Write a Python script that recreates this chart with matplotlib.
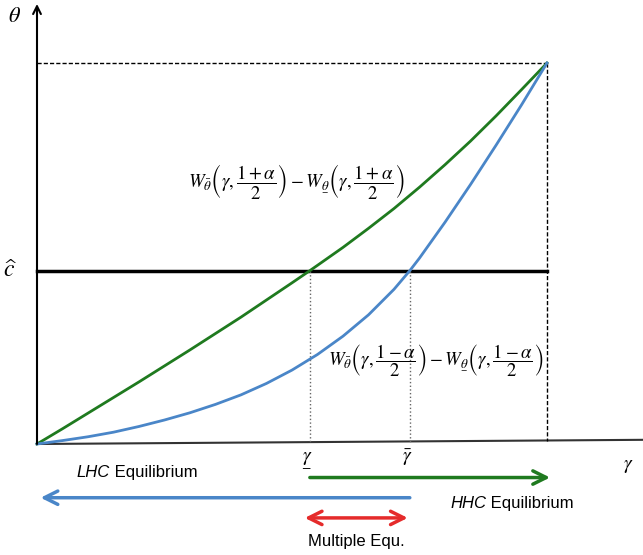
import matplotlib
matplotlib.use('Agg')
import matplotlib.pyplot as plt

plt.rcParams['mathtext.fontset'] = 'stix'
plt.rcParams['font.family'] = ['Liberation Sans', 'DejaVu Sans']

# 曲线数据（从图中读取，横轴 gamma 归一化到 0..1，纵轴 theta 归一化到 0..1）
green_x = [0, 0.05, 0.1, 0.15, 0.2, 0.25, 0.3, 0.35, 0.4, 0.45, 0.5, 0.535,
           0.55, 0.6, 0.65, 0.7, 0.75, 0.8, 0.85, 0.9, 0.95, 1.0]
green_y = [0, 0.040, 0.081, 0.122, 0.163, 0.205, 0.247, 0.290, 0.333, 0.378, 0.423, 0.455,
           0.469, 0.516, 0.566, 0.618, 0.674, 0.733, 0.795, 0.861, 0.930, 1.0]

blue_x = [0, 0.05, 0.1, 0.15, 0.2, 0.25, 0.3, 0.35, 0.4, 0.45, 0.5, 0.55, 0.6, 0.65,
          0.7, 0.731, 0.75, 0.8, 0.85, 0.9, 0.95, 1.0]
blue_y = [0, 0.009, 0.019, 0.031, 0.046, 0.063, 0.082, 0.104, 0.129, 0.159, 0.194, 0.235, 0.283, 0.339,
          0.406, 0.455, 0.488, 0.582, 0.681, 0.784, 0.890, 1.0]

c_hat = 0.455
gamma_lo = 0.535
gamma_hi = 0.731
gamma_max = 1.0
theta_max = 1.0

# mathtext 没有 \underline，用 \underset{-} 代替
upper_label = r'$W_{\bar{\theta}}\left(\gamma,\dfrac{1+\alpha}{2}\right)-W_{\underset{-}{\theta}}\left(\gamma,\dfrac{1+\alpha}{2}\right)$'
lower_label = r'$W_{\bar{\theta}}\left(\gamma,\dfrac{1-\alpha}{2}\right)-W_{\underset{-}{\theta}}\left(\gamma,\dfrac{1-\alpha}{2}\right)$'

GREEN = '#1f7a1f'
BLUE = '#4a86c8'
RED = '#e52b2b'

fig = plt.figure(figsize=(6.43, 5.55), dpi=100)
ax = fig.add_axes([37 / 643, 111 / 555, 510 / 643, 381 / 555])
ax.set_xlim(0, 1)
ax.set_ylim(0, 1)
ax.axis('off')

# 坐标轴
ax.annotate('', xy=(0, 1.155), xytext=(0, 0), xycoords='data',
            arrowprops=dict(arrowstyle='->', lw=1.5, color='black', mutation_scale=14,
                            shrinkA=0, shrinkB=0), annotation_clip=False)
ax.plot([0, 1.19], [0, 0.011], color='#333333', lw=1.5, clip_on=False)

# 虚线框
ax.plot([0, gamma_max], [theta_max, theta_max], color='black', lw=1, ls=(0, (3, 1.5)), clip_on=False)
ax.plot([gamma_max, gamma_max], [theta_max, 0.008], color='black', lw=1, ls=(0, (3, 1.5)), clip_on=False)

# c-hat 水平线
ax.plot([0, gamma_max], [c_hat, c_hat], color='black', lw=2.5, clip_on=False)

# 点线
ax.plot([gamma_lo, gamma_lo], [c_hat, 0.005], color='#666666', lw=1, ls=':', clip_on=False)
ax.plot([gamma_hi, gamma_hi], [c_hat, 0.006], color='#666666', lw=1, ls=':', clip_on=False)

# 曲线
ax.plot(green_x, green_y, color=GREEN, lw=2, clip_on=False)
ax.plot(blue_x, blue_y, color=BLUE, lw=2, clip_on=False)

# 公式
ax.text(0.508, 0.688, upper_label, fontsize=13.5, ha='center', va='center')
ax.text(0.781, 0.218, lower_label, fontsize=13.5, ha='center', va='center')

# 轴标签
ax.text(-0.045, 1.121, r'$\theta$', fontsize=16, ha='center', va='center')
ax.text(-0.053, c_hat, r'$\widehat{c}$', fontsize=17, ha='center', va='center')
ax.text(1.159, -0.06, r'$\gamma$', fontsize=14, ha='center', va='center')
ax.text(gamma_lo - 0.006, -0.042, r'$\underset{-}{\gamma}$', fontsize=14, ha='center', va='center')
ax.text(gamma_hi - 0.004, -0.037, r'$\bar{\gamma}$', fontsize=14, ha='center', va='center')

# 箭头
arrow_kw = dict(lw=2.5, mutation_scale=24, shrinkA=0, shrinkB=0)
ax.annotate('', xy=(1.006, -0.088), xytext=(gamma_lo, -0.088),
            arrowprops=dict(arrowstyle='->', color=GREEN, **arrow_kw), annotation_clip=False)
ax.annotate('', xy=(0.007, -0.141), xytext=(gamma_hi, -0.141),
            arrowprops=dict(arrowstyle='->', color=BLUE, **arrow_kw), annotation_clip=False)
ax.annotate('', xy=(gamma_hi - 0.004, -0.194), xytext=(gamma_lo - 0.01, -0.194),
            arrowprops=dict(arrowstyle='<->', color=RED, **arrow_kw), annotation_clip=False)

# 文字说明
t1 = ax.text(0.078, -0.076, 'LHC', fontsize=12, style='italic', ha='left', va='center')
ax.annotate(' Equilibrium', xy=(1, 0.5), xycoords=t1, fontsize=12, ha='left', va='center')
t2 = ax.text(0.810, -0.155, 'HHC', fontsize=12, style='italic', ha='left', va='center')
ax.annotate(' Equilibrium', xy=(1, 0.5), xycoords=t2, fontsize=12, ha='left', va='center')
ax.text(0.627, -0.257, 'Multiple Equ.', fontsize=12, ha='center', va='center')

fig.savefig('out.png', dpi=100)
